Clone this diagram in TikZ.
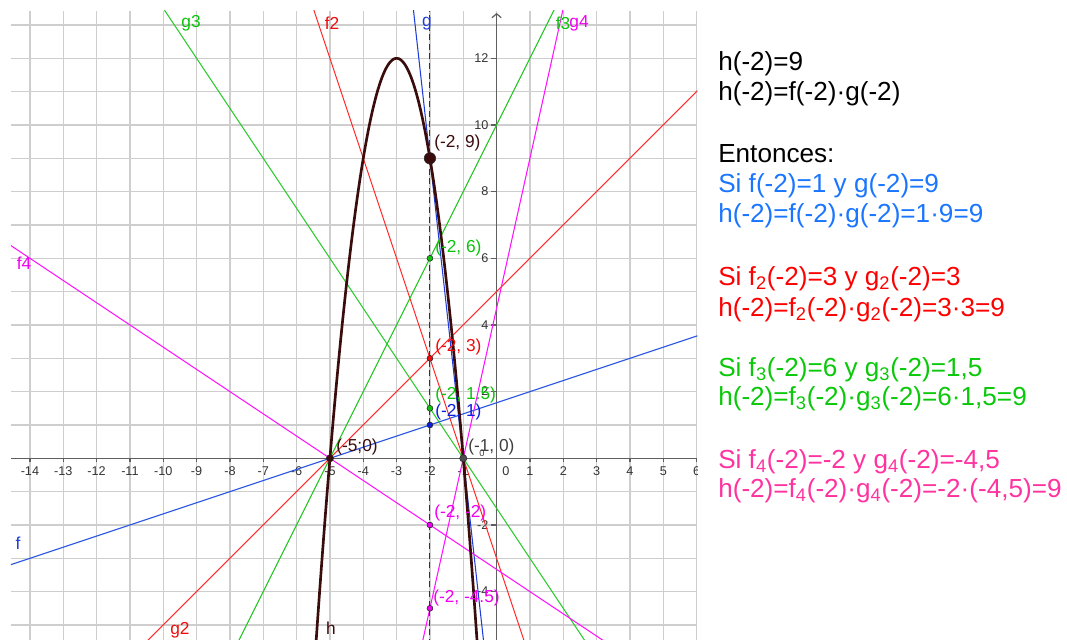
\documentclass[tikz,border=0pt]{standalone}
\usepackage{fontspec}
\setmainfont{Liberation Sans}
\usetikzlibrary{arrows.meta}
\definecolor{hcol}{RGB}{58,12,12}
\definecolor{fblue}{RGB}{40,85,225}
\definecolor{gblue}{RGB}{30,60,215}
\definecolor{lblue}{RGB}{10,30,220}
\definecolor{fred}{RGB}{255,45,45}
\definecolor{lred}{RGB}{240,10,10}
\definecolor{fgreen}{RGB}{40,200,40}
\definecolor{lgreen}{RGB}{10,195,10}
\definecolor{fmag}{RGB}{255,20,255}
\definecolor{lmag}{RGB}{240,0,240}
\definecolor{tblue}{RGB}{26,117,255}
\definecolor{tred}{RGB}{255,0,0}
\definecolor{tgreen}{RGB}{10,200,10}
\definecolor{tpink}{RGB}{255,51,160}
\definecolor{gridc}{RGB}{206,206,206}
\definecolor{axc}{RGB}{95,95,95}
\begin{document}
\begin{tikzpicture}[x=0.75pt,y=-0.75pt,
  gridline/.style={draw=gridc, line width=1.1pt},
  axisline/.style={draw=axc, line width=0.9pt},
  fnline/.style={line width=0.8pt},
  ticklab/.style={font=\fontsize{9.5}{10}\selectfont, text=black!80, inner sep=0pt},
  ptlab/.style={font=\fontsize{13}{15}\selectfont, inner sep=0pt, anchor=west},
  fnlab/.style={font=\fontsize{13}{15}\selectfont, inner sep=0pt},
  rtext/.style={font=\fontsize{19.6}{22}\selectfont, inner sep=0pt, anchor=base west},
  pt/.style={draw=black!85, line width=0.4pt}]
\useasboundingbox (0,0) rectangle (1067,639);
\begin{scope}[shift={(372.45pt,-343.725pt)},x=25pt,y=25pt]
  \clip (-14.57,-5.6) rectangle (6.02,13.42);
  % grid
  \foreach \i in {-14,...,6} \draw[gridline] (\i,-5.6) -- (\i,13.42);
  \foreach \j in {-5,...,13} \draw[gridline] (-14.57,\j) -- (6.02,\j);
  % axes
  \draw[axisline] (-14.57,0) -- (6.02,0);
  \draw[axisline,-{Straight Barb[length=3pt,width=7pt,line width=0.9pt]}] (0,-5.6) -- (0,13.36);
  \foreach \i in {-14,...,6} \draw[axisline] (\i,0) -- (\i,-0.12);
  \foreach \j in {-4,-2,2,4,6,8,10,12} \draw[axisline] (0,\j) -- (-0.16,\j);
  % tick labels
  \foreach \i in {-14,...,-1,1,2,3,4,5,6} \node[ticklab,anchor=base] (xl\i) at (\i,-0.52) {\i};
  \node[ticklab,anchor=base] (xl0) at (0.28,-0.52) {0};
  \foreach \j in {-4,-2,2,4,6,8,10,12} \node[ticklab,anchor=base east] (yl\j) at (-0.24,\j-0.13) {\j};
  % lines
  \draw[fnline,fblue] (-15,-10/3) -- (7,4);                % f
  \draw[fnline,gblue] (-2.6,14.4) -- (-0.3,-6.3);          % g
  \draw[fnline,fred] (-5.8,14.4) -- (1.2,-6.6);            % f2
  \draw[fnline,fred] (-11,-6) -- (9,14);                   % g2
  \draw[fnline,fgreen] (-8,-6) -- (2.5,15);                % f3
  \draw[fnline,fgreen] (-11,15) -- (4,-7.5);               % g3
  \draw[fnline,fmag] (-15,20/3) -- (7,-8);                 % f4
  \draw[fnline,fmag] (-2.4,-6.3) -- (2.2,14.4);            % g4
  % dashed vertical line x=-2
  \draw[black!80, line width=0.8pt, dash pattern=on 4.5pt off 2.7pt] (-2,-5.6) -- (-2,13.42);
  % h
  \draw[hcol, line width=2pt] plot[domain=-5.46:-0.54, samples=120] (\x,{-3*(\x+5)*(\x+1)});
  % points
  \filldraw[pt,fill=hcol] (-2,9) circle (4.3pt);
  \filldraw[pt,fill=hcol] (-5,0) circle (2.7pt);
  \filldraw[pt,fill=black!70] (-1,0) circle (2.7pt);
  \filldraw[pt,fill=lgreen] (-2,6) circle (2.2pt);
  \filldraw[pt,fill=lred] (-2,3) circle (2.2pt);
  \filldraw[pt,fill=lgreen] (-2,1.5) circle (2.2pt);
  \filldraw[pt,fill=lblue] (-2,1) circle (2.2pt);
  \filldraw[pt,fill=lmag] (-2,-2) circle (2.2pt);
  \filldraw[pt,fill=lmag] (-2,-4.5) circle (2.2pt);
\end{scope}
% point labels (px coordinates)
\node[ptlab,text=hcol] (l9) at (434,143) {(-2, 9)};
\node[ptlab,text=lgreen] (l6) at (435,248) {(-2, 6)};
\node[ptlab,text=lred] (l3) at (435,347) {(-2, 3)};
\node[ptlab,text=lgreen] (l15) at (435,395) {(-2, 1.5)};
\node[ptlab,text=lblue] (l1) at (435,412) {(-2, 1)};
\node[ptlab,text=hcol] (l50) at (336,447) {(-5;0)};
\node[ptlab,text=black!75] (l10) at (468,447) {(-1, 0)};
\node[font=\fontsize{7}{8}\selectfont,text=black!75,inner sep=0pt] (lsm) at (482,453) {0};
\node[ptlab,text=lmag] (lm2) at (434,513) {(-2, -2)};
\node[ptlab,text=lmag] (lm45) at (433,598) {(-2, -4.5)};
% function labels
\node[fnlab,text=lgreen] (ng3) at (191,23) {g3};
\node[fnlab,text=lred] (nf2) at (332,23) {f2};
\node[fnlab,text=gblue] (ng) at (427,24) {g};
\node[fnlab,text=lgreen] (nf3) at (563,23) {f3};
\node[fnlab,text=lmag] (ng4) at (579,23) {g4};
\node[fnlab,text=lmag] (nf4) at (24,263) {f4};
\node[fnlab,text=gblue] (nf) at (18,543) {f};
\node[fnlab,text=lred] (ng2) at (180,630) {g2};
\node[fnlab,text=hcol] (nh) at (331,628) {h};
% right text
\node[rtext] (t1) at (718,70) {h(-2)=9};
\node[rtext] (t2) at (718,100) {h(-2)=f(-2)·g(-2)};
\node[rtext] (t3) at (718,162) {Entonces:};
\node[rtext,text=tblue] (t4) at (718,192) {Si f(-2)=1 y g(-2)=9};
\node[rtext,text=tblue] (t5) at (718,222) {h(-2)=f(-2)·g(-2)=1·9=9};
\node[rtext,text=tred] (t6) at (718,285) {Si f\textsubscript{2}(-2)=3 y g\textsubscript{2}(-2)=3};
\node[rtext,text=tred] (t7) at (718,316) {h(-2)=f\textsubscript{2}(-2)·g\textsubscript{2}(-2)=3·3=9};
\node[rtext,text=tgreen] (t8) at (718,376) {Si f\textsubscript{3}(-2)=6 y g\textsubscript{3}(-2)=1,5};
\node[rtext,text=tgreen] (t9) at (718,405) {h(-2)=f\textsubscript{3}(-2)·g\textsubscript{3}(-2)=6·1,5=9};
\node[rtext,text=tpink] (t10) at (718,468) {Si f\textsubscript{4}(-2)=-2 y g\textsubscript{4}(-2)=-4,5};
\node[rtext,text=tpink] (t11) at (718,497) {h(-2)=f\textsubscript{4}(-2)·g\textsubscript{4}(-2)=-2·(-4,5)=9};
\end{tikzpicture}
\end{document}
